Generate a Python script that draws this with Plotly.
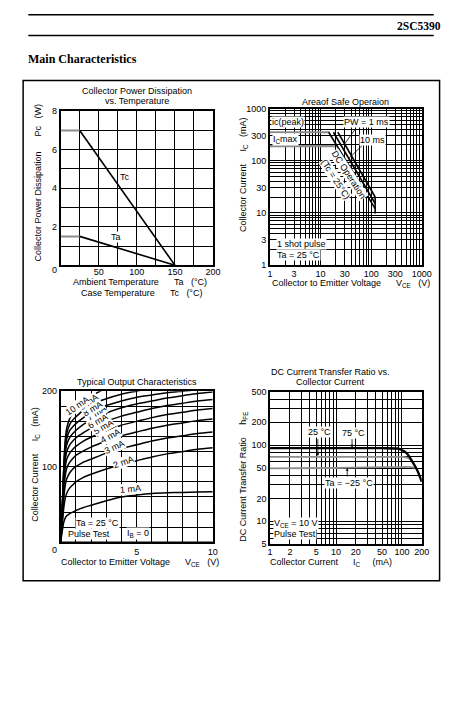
import math
import plotly.graph_objects as go

W, H = 470, 707
FONT = "Liberation Sans, Arial, Helvetica, sans-serif"
SERIF = "Liberation Serif, Times New Roman, serif"
GRAY = "#8c8c8c"
NB = "\u00a0"

# ---------------- Chart 1: Collector power dissipation vs temperature ----------------
pd_temp_flat = [0, 25]
pd_tc_flat = [7, 7]
pd_ta_flat = [1.5, 1.5]
pd_temp_slope = [25, 150]
pd_tc_slope = [7, 0]
pd_ta_slope = [1.5, 0]
pd_x_ticks = [0, 25, 50, 75, 100, 125, 150, 175, 200]
pd_x_labels = ["", "", "50", "", "100", "", "150", "", "200"]
pd_y_ticks = [0, 1, 2, 3, 4, 5, 6, 7, 8]
pd_y_labels = ["", "", "2", "", "4", "", "6", "", "8"]

# ---------------- Chart 2: Area of safe operation ----------------
aso_peak_v = [1, 15]
aso_peak_i = [350, 350]
aso_max_v = [1, 19]
aso_max_i = [190, 190]
aso_dc_v = [14.5, 120]
aso_dc_i = [350, 12]
aso_10ms_v = [18, 120]
aso_10ms_i = [350, 15]
aso_1ms_v = [22, 120]
aso_1ms_i = [350, 20]
aso_limit_v = [120, 120]
aso_limit_i = [20, 9.6]
log_ticks_1000 = [1, 2, 3, 4, 5, 6, 7, 8, 9, 10, 20, 30, 40, 50, 60, 70, 80, 90,
                  100, 200, 300, 400, 500, 600, 700, 800, 900, 1000]
log_labels_1000 = ["1", "", "3", "", "", "", "", "", "", "10", "", "30", "", "", "", "", "", "",
                   "100", "", "300", "", "", "", "", "", "", "1000"]

# ---------------- Chart 3: Typical output characteristics ----------------
oc_vce = [0, 0.1, 0.2, 0.3, 0.4, 0.6, 0.8, 1, 1.5, 2, 3, 4, 5, 6, 7, 8, 9, 10]
oc_ic_1ma = [0, 14, 26, 32, 35, 38, 40, 42, 46, 49, 55, 60, 62.5, 64.5, 65.5, 66, 66.5, 67]
oc_ic_2ma = [0, 22, 45, 58, 65, 72, 76, 80, 86, 90, 97, 103, 108, 113, 117, 120, 123, 125]
oc_ic_3ma = [0, 27, 57, 75, 84, 92, 97, 100, 106, 110, 118, 124, 129, 134, 138, 141, 144, 146]
oc_ic_4ma = [0, 31, 66, 88, 98, 106, 111, 115, 121, 126, 134, 141, 146, 151, 155, 158, 161, 163]
oc_ic_5ma = [0, 35, 74, 99, 110, 118, 123, 127, 134, 139, 148, 155, 160, 165, 169, 172, 175, 177]
oc_ic_6ma = [0, 38, 80, 108, 120, 129, 134, 138, 145, 151, 160, 167, 172, 177, 181, 184, 187, 189]
oc_ic_7ma = [0, 40, 86, 116, 129, 139, 144, 148, 156, 162, 171, 178, 183, 187, 191, 194, 197, 199]
oc_ic_8ma = [0, 42, 91, 123, 137, 148, 153, 157, 165, 172, 181, 187, 192, 195, 198, 200, 202, 204]
oc_ic_9ma = [0, 44, 95, 129, 144, 156, 162, 166, 175, 182, 190, 196, 200, 204, 207, 210, 212, 214]
oc_ic_10ma = [0, 46, 99, 135, 151, 164, 171, 176, 185, 193, 204, 211, 216, 220, 224, 227, 230, 232]
oc_ib0_v = [0, 10]
oc_ib0_i = [0, 0]
oc_labels = ["1 mA", "2 mA", "3 mA", "4 mA", "5 mA", "6 mA", "7 mA", "8 mA", "9 mA", "10 mA"]
oc_label_v = [4.6, 4.15, 3.55, 3.28, 2.8, 2.45, 2.35, 2.07, 1.85, 1.07]
oc_label_i = [70.5, 106, 126, 140.5, 152, 161, 171, 177, 186, 181]
oc_label_angle = [-5, -20, -25, -28, -30, -30, -32, -32, -35, -35]
oc_x_ticks = list(range(0, 11))
oc_x_labels = ["", "", "", "", "", "5", "", "", "", "", "10"]
oc_y_ticks = list(range(0, 201, 20))
oc_y_labels = ["", "", "", "", "", "100", "", "", "", "", "200"]

# ---------------- Chart 4: DC current transfer ratio ----------------
hfe_75_ic = [1, 10, 50, 85, 100, 120, 140, 170, 200]
hfe_75 = [91, 91, 91, 90, 86, 77, 63, 47, 33]
hfe_25_ic = [1, 10, 50, 100, 115, 130, 142]
hfe_25 = [70, 70, 70, 70, 69, 66, 62]
hfe_m25_ic = [1, 10, 30, 100, 140, 157]
hfe_m25 = [49.5, 50, 51, 51.5, 51.5, 50]
hfe_x_ticks = [1, 2, 3, 4, 5, 6, 7, 8, 9, 10, 20, 30, 40, 50, 60, 70, 80, 90, 100, 200]
hfe_x_labels = ["1", "2", "", "", "5", "", "", "", "", "10", "20", "", "", "50", "", "", "", "",
                "100", "200"]
hfe_y_ticks = [5, 6, 7, 8, 9, 10, 20, 30, 40, 50, 60, 70, 80, 90, 100, 200, 300, 400, 500]
hfe_y_labels = ["5", "", "", "", "", "10", "20", "", "", "50", "", "", "", "", "100", "200",
                "", "", "500"]


def fx(p):
    return p / W


def fy(p):
    return 1 - p / H


def sp(n):
    return NB * n


L = math.log10

fig = go.Figure()


def line(x, y, xa, ya, color="black", width=1.6, shape="linear"):
    fig.add_trace(go.Scatter(x=x, y=y, xaxis=xa, yaxis=ya, mode="lines",
                             line=dict(color=color, width=width, shape=shape, smoothing=0.6),
                             showlegend=False, hoverinfo="skip"))


# chart 1
line(pd_temp_flat, pd_tc_flat, "x", "y", GRAY, 2)
line(pd_temp_flat, pd_ta_flat, "x", "y", GRAY, 2)
line(pd_temp_slope, pd_tc_slope, "x", "y")
line(pd_temp_slope, pd_ta_slope, "x", "y")

# chart 2
line(aso_peak_v, aso_peak_i, "x2", "y2", GRAY, 2.2)
line(aso_max_v, aso_max_i, "x2", "y2", GRAY, 2.2)
line(aso_dc_v, aso_dc_i, "x2", "y2", "black", 1.6)
line(aso_10ms_v, aso_10ms_i, "x2", "y2", "black", 1.6)
line(aso_1ms_v, aso_1ms_i, "x2", "y2", "black", 1.6)
line(aso_limit_v, aso_limit_i, "x2", "y2", "black", 1.6)

# chart 3
for ic in [oc_ic_1ma, oc_ic_2ma, oc_ic_3ma, oc_ic_4ma, oc_ic_5ma, oc_ic_6ma,
           oc_ic_7ma, oc_ic_8ma, oc_ic_9ma, oc_ic_10ma]:
    line(oc_vce, ic, "x3", "y3", "black", 1.5, "spline")
line(oc_ib0_v, oc_ib0_i, "x3", "y3", "black", 1.5)

# chart 4
line(hfe_25_ic, hfe_25, "x4", "y4", GRAY, 1.8, "spline")
line(hfe_m25_ic, hfe_m25, "x4", "y4", GRAY, 1.8, "spline")
line(hfe_75_ic, hfe_75, "x4", "y4", "black", 2.4, "spline")


def axis(**kw):
    d = dict(showline=True, linecolor="black", linewidth=1.5, mirror=True,
             showgrid=True, gridcolor="black", gridwidth=1, zeroline=False,
             ticks="", tickfont=dict(size=9, color="black", family=FONT),
             tickmode="array", fixedrange=True)
    d.update(kw)
    return d


fig.update_layout(
    width=W, height=H, autosize=False,
    margin=dict(l=0, r=0, t=0, b=0),
    paper_bgcolor="white", plot_bgcolor="white",
    font=dict(family=FONT, size=9, color="black"),
    xaxis=axis(domain=[fx(59.3), fx(216)], range=[0, 200], anchor="y",
               tickvals=pd_x_ticks, ticktext=pd_x_labels, ticklabelstandoff=-3),
    yaxis=axis(domain=[fy(264), fy(107.7)], range=[0, 8], anchor="x",
               tickvals=pd_y_ticks, ticktext=pd_y_labels),
    xaxis2=axis(type="log", domain=[fx(274.5), fx(430.7)], range=[0, 3], anchor="y2",
                tickvals=log_ticks_1000, ticktext=log_labels_1000),
    yaxis2=axis(type="log", domain=[fy(263.5), fy(105)], range=[0, 3], anchor="x2",
                tickvals=log_ticks_1000, ticktext=log_labels_1000),
    xaxis3=axis(domain=[fx(59.3), fx(215.7)], range=[0, 10], anchor="y3",
                tickvals=oc_x_ticks, ticktext=oc_x_labels),
    yaxis3=axis(domain=[fy(545), fy(391.7)], range=[0, 200], anchor="x3",
                tickvals=oc_y_ticks, ticktext=oc_y_labels),
    xaxis4=axis(type="log", domain=[fx(274.7), fx(430.7)], range=[0, L(200)], anchor="y4",
                tickvals=hfe_x_ticks, ticktext=hfe_x_labels, ticklabelstandoff=-2),
    yaxis4=axis(type="log", domain=[fy(547), fy(392.3)], range=[L(5), L(500)], anchor="x4",
                tickvals=hfe_y_ticks, ticktext=hfe_y_labels),
)

anns = []


def ptext(text, x, y, size=9, angle=0, xanchor="center", family=FONT, bold=False):
    if bold:
        text = "<b>" + text + "</b>"
    anns.append(dict(text=text, x=fx(x), y=fy(y), xref="paper", yref="paper",
                     showarrow=False, xanchor=xanchor, yanchor="middle", textangle=angle,
                     borderpad=0, font=dict(size=size, family=family, color="black")))


def dtext(text, x, y, xr, yr, angle=0, bg="white", xanchor="center", size=9):
    anns.append(dict(text=text, x=x, y=y, xref=xr, yref=yr, showarrow=False,
                     textangle=angle, bgcolor=bg, borderpad=0, xanchor=xanchor,
                     font=dict(size=size, family=FONT, color="black")))


def arrow(x0, y0, x1, y1, xr, yr, head=0):
    anns.append(dict(text="", x=x1, y=y1, ax=x0, ay=y0, xref=xr, yref=yr,
                     axref=xr, ayref=yr, showarrow=True, arrowhead=head,
                     arrowsize=0.7, arrowwidth=0.8, arrowcolor="black", standoff=0))


# page header
ptext("2SC5390", 451, 21, size=11.5, xanchor="right", family=SERIF, bold=True)
ptext("Main Characteristics", 25, 55, size=12, xanchor="left", family=SERIF, bold=True)

# chart 1 texts
ptext("Collector Power Dissipation", 138.3, 87.5)
ptext("vs. Temperature", 138.3, 97.5)
ptext("Collector Power Dissipation" + sp(6) + "Pc" + sp(3) + "(W)", 36, 180, angle=-90)
ptext("Ambient Temperature" + sp(6) + "Ta" + sp(3) + "(°C)", 141, 281)
ptext("Case Temperature" + sp(6) + "Tc" + sp(3) + "(°C)", 142, 292)
ptext("0", 53.3, 269.3)
dtext("Tc", 85, 4.6, "x", "y")
dtext("Ta", 73, 1.47, "x", "y")

# chart 2 texts
ptext("Areaof Safe Operaion", 352.7, 98)
ptext("Collector Current" + sp(5) + "I<sub>C</sub>" + sp(3) + "(mA)", 247.3, 172, angle=-90)
ptext("Collector to Emitter Voltage" + sp(6) + "V<sub>CE</sub>" + sp(3) + "(V)", 358, 282)
dtext("ic(peak)", L(1.05), L(540), "x2", "y2", xanchor="left")
dtext("I<sub>C</sub>max", L(1.1), L(250), "x2", "y2", xanchor="left")
dtext("PW = 1 ms", L(81), L(546), "x2", "y2")
dtext("10 ms", L(106), L(246), "x2", "y2")
arrow(L(52), L(440), L(30), L(210), "x2", "y2")
arrow(L(70), L(205), L(36), L(110), "x2", "y2")
dtext("DC Operation", L(36.3), L(53), "x2", "y2", angle=57)
dtext("(Tc = 25°C)", L(19.5), L(44), "x2", "y2", angle=57)
dtext("1 shot pulse", L(1.33), L(2.55), "x2", "y2", xanchor="left")
dtext("Ta = 25 °C", L(1.33), L(1.55), "x2", "y2", xanchor="left")

# chart 3 texts
ptext("Typical Output Characteristics", 138.3, 382.7)
ptext("Collector Current" + sp(5) + "I<sub>C</sub>" + sp(3) + "(mA)", 33.3, 466, angle=-90)
ptext("Collector to Emitter Voltage" + sp(6) + "V<sub>CE</sub>" + sp(3) + "(V)", 141, 566)
ptext("0", 53.3, 553)
for t, v, i, a in zip(oc_labels, oc_label_v, oc_label_i, oc_label_angle):
    dtext(t, v, i, "x3", "y3", angle=a)
dtext("Ta = 25 °C", 2.43, 25, "x3", "y3")
dtext("Pulse Test", 1.88, 11, "x3", "y3")
dtext("I<sub>B</sub> = 0", 5.1, 11, "x3", "y3")

# chart 4 texts
ptext("DC Current Transfer Ratio vs.", 337, 372)
ptext("Collector Current", 337, 382)
ptext("DC Current Transfer Ratio" + sp(5) + "h<sub>FE</sub>", 247.3, 478, angle=-90)
ptext("Collector Current" + sp(6) + "I<sub>C</sub>" + sp(5) + "(mA)", 337, 566)
dtext("25 °C", L(5.65), L(147), "x4", "y4")
dtext("75 °C", L(18.5), L(143), "x4", "y4")
dtext("Ta = −25 °C", L(16), L(31.7), "x4", "y4")
dtext("V<sub>CE</sub> = 10 V", L(1.1), L(9.35), "x4", "y4", xanchor="left")
dtext("Pulse Test", L(1.1), L(6.8), "x4", "y4", xanchor="left")
arrow(L(5.3), L(125), L(5.3), L(72), "x4", "y4", head=2)
arrow(L(17.5), L(125), L(17.5), L(93), "x4", "y4", head=2)
arrow(L(14.8), L(37), L(14.8), L(50), "x4", "y4", head=2)

fig.update_layout(annotations=anns)

# page rules and frame
shapes = [
    dict(type="line", xref="paper", yref="paper", x0=fx(26), x1=fx(443), y0=fy(10), y1=fy(10),
         line=dict(color="black", width=1.5)),
    dict(type="line", xref="paper", yref="paper", x0=fx(26), x1=fx(443), y0=fy(31), y1=fy(31),
         line=dict(color="black", width=1.5)),
    dict(type="rect", xref="paper", yref="paper", x0=fx(20.7), x1=fx(449), y0=fy(584), y1=fy(76.5),
         line=dict(color="black", width=1.5)),
]
fig.update_layout(shapes=shapes)

fig.write_html("out.html", config={"displayModeBar": False},
               post_script="document.body.style.margin='0px';")
